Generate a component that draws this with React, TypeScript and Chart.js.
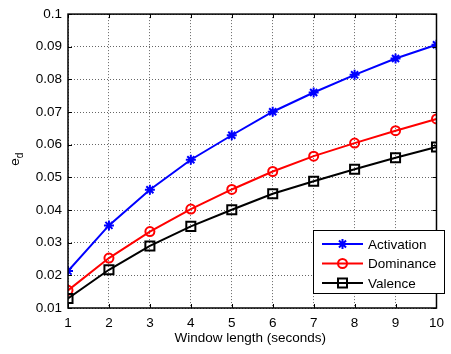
import React, { useEffect, useRef } from "react";
import { Chart, registerables } from "chart.js";

Chart.register(...registerables);

const windowLengths = [1, 2, 3, 4, 5, 6, 7, 8, 9, 10];
const activation = [0.0213, 0.0353, 0.0462, 0.0554, 0.0629, 0.0701, 0.076, 0.0814, 0.0864, 0.0906];
const dominance = [0.0154, 0.0253, 0.0334, 0.0403, 0.0463, 0.0518, 0.0565, 0.0605, 0.0643, 0.0679];
const valence = [0.0129, 0.0217, 0.029, 0.035, 0.0401, 0.045, 0.0488, 0.0525, 0.056, 0.0593];
const xTicks = [1, 2, 3, 4, 5, 6, 7, 8, 9, 10];
const yTicks = [0.01, 0.02, 0.03, 0.04, 0.05, 0.06, 0.07, 0.08, 0.09, 0.1];
const yTickLabels = ["0.01", "0.02", "0.03", "0.04", "0.05", "0.06", "0.07", "0.08", "0.09", "0.1"];
const seriesNames = ["Activation", "Dominance", "Valence"];
const xTitle = "Window length (seconds)";

const FONT = "Arial, 'Liberation Sans', sans-serif";
const FS = 13.5;

function drawMarker(ctx: CanvasRenderingContext2D, style: string, x: number, y: number, color: string) {
  ctx.save();
  ctx.strokeStyle = color;
  ctx.lineWidth = 2;
  ctx.beginPath();
  if (style === "star") {
    const r = 5;
    ctx.moveTo(x - r, y); ctx.lineTo(x + r, y);
    ctx.moveTo(x, y - r); ctx.lineTo(x, y + r);
    const d = r * 0.707;
    ctx.moveTo(x - d, y - d); ctx.lineTo(x + d, y + d);
    ctx.moveTo(x - d, y + d); ctx.lineTo(x + d, y - d);
  } else if (style === "circle") {
    ctx.arc(x, y, 4.5, 0, Math.PI * 2);
  } else {
    ctx.rect(x - 4.5, y - 4.5, 9, 9);
  }
  ctx.stroke();
  ctx.restore();
}

const framePlugin = {
  id: "matlabFrame",
  afterDraw(chart: any) {
    const ctx = chart.ctx as CanvasRenderingContext2D;
    const { left, right, top, bottom } = chart.chartArea;
    const xs = chart.scales.x;
    const ys = chart.scales.y;
    ctx.save();
    ctx.strokeStyle = "#000";
    ctx.lineWidth = 1.5;
    ctx.strokeRect(left, top, right - left, bottom - top);
    ctx.lineWidth = 1;
    ctx.beginPath();
    const tl = 4;
    xTicks.forEach((v) => {
      const px = Math.round(xs.getPixelForValue(v)) + 0.5;
      ctx.moveTo(px, bottom); ctx.lineTo(px, bottom - tl);
      ctx.moveTo(px, top); ctx.lineTo(px, top + tl);
    });
    yTicks.forEach((v) => {
      const py = Math.round(ys.getPixelForValue(v)) + 0.5;
      ctx.moveTo(left, py); ctx.lineTo(left + tl, py);
      ctx.moveTo(right, py); ctx.lineTo(right - tl, py);
    });
    ctx.stroke();

    ctx.fillStyle = "#000";
    ctx.font = `${FS}px ${FONT}`;
    ctx.textAlign = "center";
    ctx.textBaseline = "middle";
    ctx.fillText(xTitle, (left + right) / 2 - 2, 338);

    ctx.save();
    ctx.translate(15, 160);
    ctx.rotate(-Math.PI / 2);
    ctx.textAlign = "left";
    ctx.textBaseline = "alphabetic";
    ctx.font = `${FS}px ${FONT}`;
    const ew = ctx.measureText("e").width;
    ctx.fillText("e", -ew / 2 - 2, 4);
    ctx.font = `10px ${FONT}`;
    ctx.fillText("d", ew / 2 - 2, 8);
    ctx.restore();

    const lx = 313, ly = 230, lw = 131, lh = 63;
    ctx.fillStyle = "#fff";
    ctx.fillRect(lx, ly, lw, lh);
    ctx.strokeStyle = "#000";
    ctx.lineWidth = 1;
    ctx.strokeRect(lx + 0.5, ly + 0.5, lw, lh);
    const colors = ["#0000ff", "#ff0000", "#000000"];
    const styles = ["star", "circle", "rect"];
    const rows = [244, 263.5, 283];
    seriesNames.forEach((name, i) => {
      const cy = rows[i];
      ctx.strokeStyle = colors[i];
      ctx.lineWidth = 2;
      ctx.beginPath();
      ctx.moveTo(322, cy); ctx.lineTo(363, cy);
      ctx.stroke();
      drawMarker(ctx, styles[i], 342.5, cy, colors[i]);
      ctx.fillStyle = "#000";
      ctx.font = `${FS}px ${FONT}`;
      ctx.textAlign = "left";
      ctx.textBaseline = "middle";
      ctx.fillText(name, 368, cy + 1);
    });
    ctx.restore();
  },
};

export default function App() {
  const ref = useRef<HTMLCanvasElement | null>(null);
  useEffect(() => {
    if (!ref.current) return;
    const mk = (data: number[]) => windowLengths.map((x, i) => ({ x, y: data[i] }));
    const chart = new Chart(ref.current, {
      type: "line",
      data: {
        datasets: [
          {
            label: seriesNames[0], data: mk(activation), borderColor: "#0000ff", backgroundColor: "#0000ff",
            borderWidth: 2, pointStyle: "star", pointRadius: 5, pointBorderWidth: 2, pointBorderColor: "#0000ff",
            pointBackgroundColor: "rgba(0,0,0,0)", tension: 0, order: 3,
          },
          {
            label: seriesNames[1], data: mk(dominance), borderColor: "#ff0000", backgroundColor: "#ff0000",
            borderWidth: 2, pointStyle: "circle", pointRadius: 4.5, pointBorderWidth: 2, pointBorderColor: "#ff0000",
            pointBackgroundColor: "rgba(0,0,0,0)", tension: 0, order: 2,
          },
          {
            label: seriesNames[2], data: mk(valence), borderColor: "#000000", backgroundColor: "#000000",
            borderWidth: 2, pointStyle: "rect", pointRadius: 6.4, pointBorderWidth: 2, pointBorderColor: "#000000",
            pointBackgroundColor: "rgba(0,0,0,0)", tension: 0, order: 1,
          },
        ],
      },
      options: {
        animation: false,
        responsive: false,
        maintainAspectRatio: false,
        layout: { padding: { left: 0, right: 10, top: 7, bottom: 0 } },
        plugins: { legend: { display: false }, tooltip: { enabled: false } },
        scales: {
          x: {
            type: "linear",
            min: 1,
            max: 10,
            afterBuildTicks: (s: any) => { s.ticks = xTicks.map((v) => ({ value: v })); },
            afterFit: (s: any) => { s.height = 46; },
            ticks: {
              color: "#000",
              font: { family: FONT, size: FS },
              padding: 7,
              maxRotation: 0,
              autoSkip: false,
              callback: (v: any) => String(v),
            },
            grid: { color: "rgba(0,0,0,0.6)", lineWidth: 1, drawTicks: false, tickLength: 0 },
            border: { display: false, dash: [1, 2] },
          },
          y: {
            type: "linear",
            min: 0.01,
            max: 0.1,
            afterBuildTicks: (s: any) => { s.ticks = yTicks.map((v) => ({ value: v })); },
            afterFit: (s: any) => { s.width = 68; },
            ticks: {
              color: "#000",
              font: { family: FONT, size: FS },
              padding: 6,
              autoSkip: false,
              callback: (v: any) => {
                const idx = yTicks.findIndex((t) => Math.abs(t - v) < 1e-9);
                return idx >= 0 ? yTickLabels[idx] : "";
              },
            },
            grid: { color: "rgba(0,0,0,0.6)", lineWidth: 1, drawTicks: false, tickLength: 0 },
            border: { display: false, dash: [1, 2] },
          },
        },
      },
      plugins: [framePlugin],
    });
    return () => chart.destroy();
  }, []);
  return (
    <div style={{ position: "absolute", left: 0, top: 0, width: 451, height: 354, background: "#fff" }}>
      <canvas ref={ref} width={451} height={354} style={{ width: 451, height: 354, display: "block" }} />
    </div>
  );
}
